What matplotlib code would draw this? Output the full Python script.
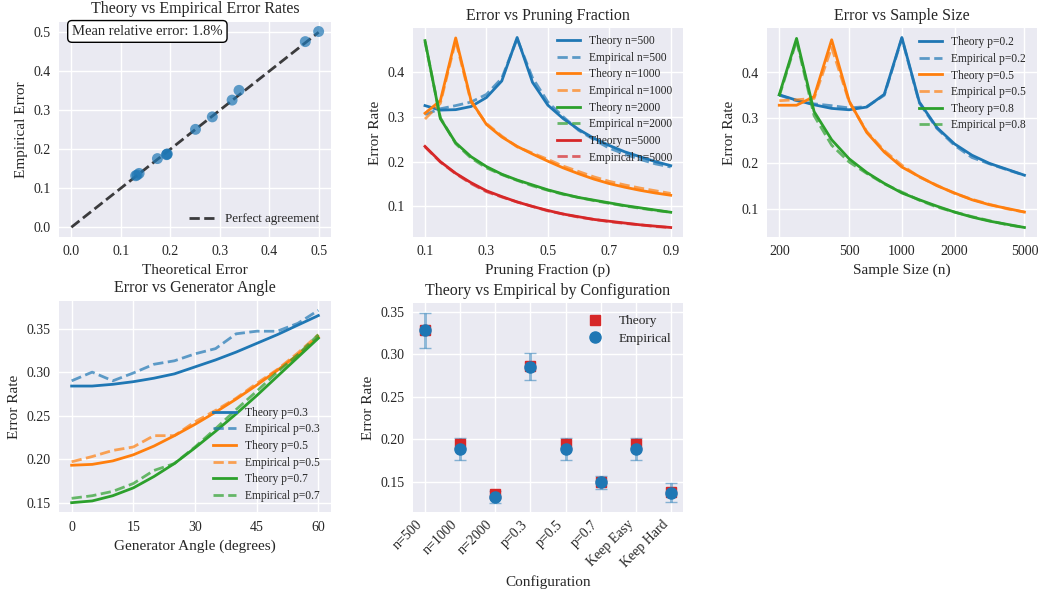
import matplotlib
matplotlib.use("Agg")
import matplotlib.pyplot as plt
import numpy as np
from matplotlib.ticker import FixedLocator, FixedFormatter, NullLocator

# ---------------- data ----------------
# Panel 1: theory vs empirical scatter
scatter_theory = [0.500, 0.473, 0.339, 0.325, 0.285, 0.251, 0.1925, 0.194, 0.193, 0.174, 0.137, 0.130, 0.133]
scatter_empirical = [0.502, 0.476, 0.351, 0.326, 0.283, 0.251, 0.186, 0.188, 0.187, 0.176, 0.138, 0.132, 0.134]
mean_rel_error_text = "Mean relative error: 1.8%"

# Panel 2: error vs pruning fraction
prune_p = [0.10, 0.15, 0.20, 0.25, 0.30, 0.35, 0.40, 0.45, 0.50, 0.55, 0.60, 0.65, 0.70, 0.75, 0.80, 0.85, 0.90]
prune_n_labels = ["500", "1000", "2000", "5000"]
prune_theory = {
    "500":  [0.325, 0.315, 0.316, 0.323, 0.343, 0.380, 0.477, 0.377, 0.326, 0.296, 0.272, 0.252, 0.236, 0.222, 0.211, 0.200, 0.191],
    "1000": [0.308, 0.336, 0.476, 0.336, 0.283, 0.255, 0.234, 0.217, 0.201, 0.186, 0.173, 0.161, 0.151, 0.143, 0.136, 0.130, 0.125],
    "2000": [0.470, 0.296, 0.242, 0.211, 0.189, 0.172, 0.159, 0.148, 0.137, 0.128, 0.120, 0.114, 0.108, 0.102, 0.097, 0.092, 0.087],
    "5000": [0.234, 0.200, 0.174, 0.153, 0.135, 0.122, 0.110, 0.100, 0.091, 0.083, 0.077, 0.071, 0.067, 0.063, 0.059, 0.056, 0.053],
}
prune_empirical = {
    "500":  [0.305, 0.318, 0.325, 0.333, 0.350, 0.386, 0.474, 0.387, 0.333, 0.300, 0.270, 0.249, 0.230, 0.217, 0.205, 0.195, 0.188],
    "1000": [0.295, 0.330, 0.470, 0.333, 0.285, 0.257, 0.233, 0.219, 0.205, 0.190, 0.178, 0.166, 0.156, 0.148, 0.141, 0.135, 0.129],
    "2000": [0.468, 0.298, 0.240, 0.208, 0.186, 0.171, 0.158, 0.146, 0.136, 0.127, 0.120, 0.113, 0.107, 0.101, 0.096, 0.091, 0.087],
    "5000": [0.233, 0.199, 0.173, 0.151, 0.133, 0.121, 0.110, 0.100, 0.090, 0.083, 0.076, 0.071, 0.066, 0.062, 0.059, 0.055, 0.053],
}

# Panel 3: error vs sample size
sample_n = [200, 251, 316, 398, 501, 631, 794, 1000, 1258, 1584, 1995, 2511, 3162, 3981, 5000]
sample_p_labels = ["0.2", "0.5", "0.8"]
sample_theory = {
    "0.2": [0.351, 0.339, 0.329, 0.321, 0.318, 0.324, 0.352, 0.477, 0.335, 0.279, 0.243, 0.218, 0.200, 0.187, 0.174],
    "0.5": [0.328, 0.328, 0.347, 0.472, 0.337, 0.268, 0.225, 0.192, 0.171, 0.151, 0.135, 0.120, 0.109, 0.101, 0.093],
    "0.8": [0.351, 0.475, 0.314, 0.252, 0.210, 0.180, 0.156, 0.135, 0.120, 0.106, 0.093, 0.082, 0.073, 0.066, 0.059],
}
sample_empirical = {
    "0.2": [0.350, 0.338, 0.331, 0.327, 0.322, 0.325, 0.350, 0.475, 0.333, 0.277, 0.240, 0.213, 0.199, 0.186, 0.174],
    "0.5": [0.338, 0.340, 0.343, 0.455, 0.335, 0.270, 0.228, 0.196, 0.170, 0.152, 0.134, 0.121, 0.110, 0.100, 0.093],
    "0.8": [0.348, 0.470, 0.305, 0.240, 0.203, 0.178, 0.155, 0.137, 0.119, 0.104, 0.093, 0.083, 0.074, 0.065, 0.059],
}
sample_ticks = [200, 500, 1000, 2000, 5000]

# Panel 4: error vs generator angle
angles = [0, 5, 10, 15, 20, 25, 30, 35, 40, 45, 50, 55, 60]
angle_p_labels = ["0.3", "0.5", "0.7"]
angle_theory = {
    "0.3": [0.284, 0.284, 0.286, 0.289, 0.293, 0.298, 0.306, 0.314, 0.323, 0.333, 0.343, 0.354, 0.365],
    "0.5": [0.193, 0.194, 0.198, 0.205, 0.215, 0.227, 0.240, 0.254, 0.269, 0.285, 0.302, 0.320, 0.340],
    "0.7": [0.150, 0.152, 0.158, 0.167, 0.180, 0.195, 0.213, 0.232, 0.252, 0.273, 0.295, 0.317, 0.339],
}
angle_empirical = {
    "0.3": [0.290, 0.300, 0.290, 0.299, 0.309, 0.313, 0.321, 0.327, 0.344, 0.347, 0.347, 0.356, 0.371],
    "0.5": [0.197, 0.203, 0.210, 0.214, 0.227, 0.227, 0.243, 0.256, 0.270, 0.287, 0.303, 0.322, 0.343],
    "0.7": [0.155, 0.158, 0.163, 0.172, 0.187, 0.195, 0.214, 0.235, 0.257, 0.278, 0.300, 0.320, 0.343],
}
angle_ticks = [0, 15, 30, 45, 60]

# Panel 5: configurations
configs = ["n=500", "n=1000", "n=2000", "p=0.3", "p=0.5", "p=0.7", "Keep Easy", "Keep Hard"]
config_theory = [0.328, 0.194, 0.135, 0.2855, 0.194, 0.150, 0.194, 0.138]
config_empirical = [0.328, 0.188, 0.132, 0.285, 0.188, 0.149, 0.188, 0.137]
config_err = [0.021, 0.013, 0.007, 0.016, 0.013, 0.008, 0.013, 0.011]

# ---------------- style ----------------
plt.rcParams.update({
    "font.family": ["Liberation Serif", "DejaVu Serif"],
    "axes.facecolor": "#EAEAF2",
    "figure.facecolor": "white",
    "axes.edgecolor": "white",
    "axes.grid": True,
    "grid.color": "white",
    "grid.linewidth": 1.0,
    "axes.axisbelow": True,
    "axes.linewidth": 0,
    "xtick.bottom": False,
    "ytick.left": False,
    "xtick.labelsize": 10,
    "ytick.labelsize": 10,
    "axes.labelsize": 11,
    "axes.titlesize": 11.5,
    "text.color": "#262626",
    "axes.labelcolor": "#262626",
    "xtick.color": "#262626",
    "ytick.color": "#262626",
    "legend.fontsize": 8.3,
    "legend.frameon": False,
    "legend.labelspacing": 0.4,
})

colors = ["#1f77b4", "#ff7f0e", "#2ca02c", "#d62728"]

fig = plt.figure(figsize=(10.42, 5.90), dpi=100)
W, H = 1042.0, 590.0

def rect(l, t, r, b):
    return [l / W, 1 - b / H, (r - l) / W, (b - t) / H]

ax1 = fig.add_axes(rect(59, 21.7, 331, 237))
ax2 = fig.add_axes(rect(412.7, 28, 683, 237))
ax3 = fig.add_axes(rect(767, 28, 1036.7, 237))
ax4 = fig.add_axes(rect(59.3, 300.7, 330.7, 512.3))
ax5 = fig.add_axes(rect(412.7, 303, 683.3, 512.3))

for ax in (ax1, ax2, ax3, ax4, ax5):
    for s in ax.spines.values():
        s.set_visible(False)
    ax.tick_params(length=0, pad=6)

# Panel 1
ax1.scatter(scatter_theory, scatter_empirical, s=62, alpha=0.7, color=colors[0], edgecolors="none", zorder=3)
ax1.plot([0, 0.5], [0, 0.5], "k--", alpha=0.75, lw=2, label="Perfect agreement", zorder=2)
ax1.set_xlabel("Theoretical Error")
ax1.set_ylabel("Empirical Error")
ax1.set_title("Theory vs Empirical Error Rates")
ax1.legend(loc="lower right", fontsize=9.4)
ax1.text(0.048, 0.985, mean_rel_error_text, transform=ax1.transAxes, fontsize=10.5, va="top", ha="left",
         bbox=dict(boxstyle="round,pad=0.3", facecolor="white", edgecolor="black"))
ax1.set_xticks([0.0, 0.1, 0.2, 0.3, 0.4, 0.5])
ax1.set_yticks([0.0, 0.1, 0.2, 0.3, 0.4, 0.5])

# Panel 2
for i, n in enumerate(prune_n_labels):
    ax2.plot(prune_p, prune_theory[n], "-", color=colors[i], lw=2, label=f"Theory n={n}")
    ax2.plot(prune_p, prune_empirical[n], "--", color=colors[i], lw=2, alpha=0.7, label=f"Empirical n={n}")
ax2.set_xlabel("Pruning Fraction (p)")
ax2.set_ylabel("Error Rate")
ax2.set_title("Error vs Pruning Fraction")
ax2.set_xticks([0.1, 0.3, 0.5, 0.7, 0.9])
ax2.set_yticks([0.1, 0.2, 0.3, 0.4])
ax2.legend(loc="upper right", bbox_to_anchor=(1.0, 1.015))

# Panel 3
for i, p in enumerate(sample_p_labels):
    ax3.plot(sample_n, sample_theory[p], "-", color=colors[i], lw=2, label=f"Theory p={p}")
    ax3.plot(sample_n, sample_empirical[p], "--", color=colors[i], lw=2, alpha=0.7, label=f"Empirical p={p}")
ax3.set_xscale("log")
ax3.xaxis.set_major_locator(FixedLocator(sample_ticks))
ax3.xaxis.set_major_formatter(FixedFormatter([str(t) for t in sample_ticks]))
ax3.xaxis.set_minor_locator(NullLocator())
ax3.set_xlabel("Sample Size (n)")
ax3.set_ylabel("Error Rate")
ax3.set_title("Error vs Sample Size")
ax3.set_yticks([0.1, 0.2, 0.3, 0.4])
ax3.legend(loc="upper right", bbox_to_anchor=(1.0, 1.01))

# Panel 4
for i, p in enumerate(angle_p_labels):
    ax4.plot(angles, angle_theory[p], "-", color=colors[i], lw=2, label=f"Theory p={p}")
    ax4.plot(angles, angle_empirical[p], "--", color=colors[i], lw=2, alpha=0.7, label=f"Empirical p={p}")
ax4.set_xticks(angle_ticks)
ax4.set_yticks([0.15, 0.20, 0.25, 0.30, 0.35])
ax4.set_yticklabels(["0.15", "0.20", "0.25", "0.30", "0.35"])
ax4.set_xlabel("Generator Angle (degrees)")
ax4.set_ylabel("Error Rate")
ax4.set_title("Error vs Generator Angle")
ax4.legend(loc="lower right")

# Panel 5
xpos = np.arange(len(configs))
ax5.errorbar(xpos, config_empirical, yerr=config_err, fmt="none", ecolor=colors[0], alpha=0.5, capsize=4, lw=2, zorder=2)
ax5.plot(xpos, config_theory, "s", color=colors[3], ms=7.5, label="Theory", zorder=3, lw=0)
ax5.plot(xpos, config_empirical, "o", color=colors[0], ms=8, label="Empirical", zorder=4, lw=0)
ax5.set_xticks(xpos)
ax5.set_xticklabels(configs, rotation=45, ha="right", rotation_mode="default")
ax5.tick_params(axis="x", pad=4)
ax5.set_yticks([0.15, 0.20, 0.25, 0.30, 0.35])
ax5.set_yticklabels(["0.15", "0.20", "0.25", "0.30", "0.35"])
ax5.set_xlabel("Configuration")
ax5.set_ylabel("Error Rate")
ax5.set_title("Theory vs Empirical by Configuration")
ax5.legend(loc="upper right", fontsize=9.6)

fig.savefig("out.png", dpi=100)
